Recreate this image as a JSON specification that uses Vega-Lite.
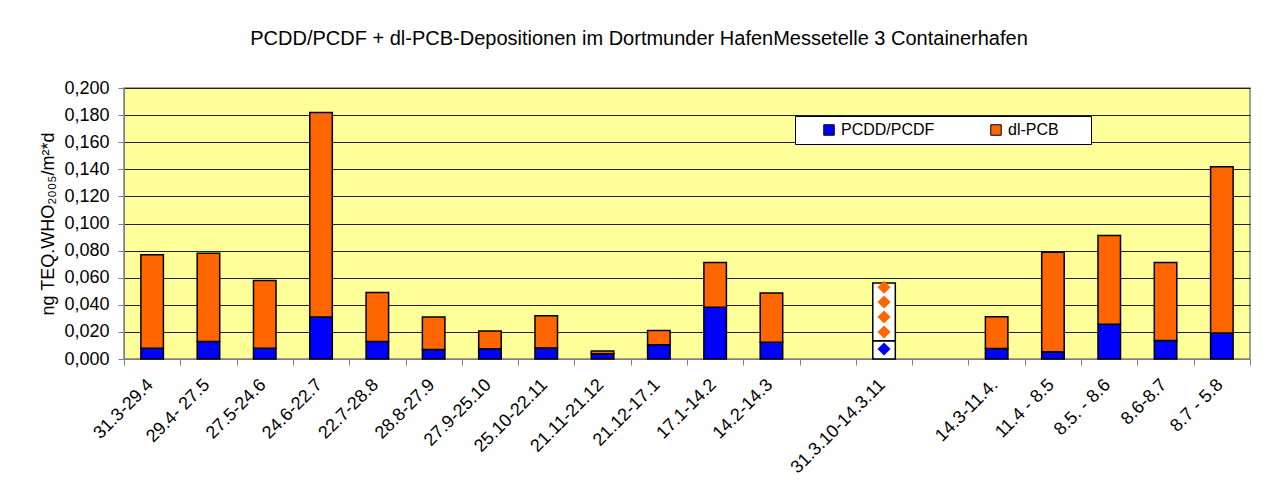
{
  "$schema": "https://vega.github.io/schema/vega-lite/v6.json",
  "width": 1126,
  "height": 271,
  "autosize": "none",
  "padding": {"left": 124, "top": 88, "right": 22, "bottom": 136},
  "background": "white",
  "config": {
    "font": "Liberation Sans",
    "view": {"fill": "#FFFF99", "stroke": "#808080", "strokeWidth": 1.5},
    "axisY": {
      "titleFontSize": 18,
      "titleFontWeight": "normal",
      "titleColor": "black",
      "titlePadding": 6,
      "tickCount": 10,
      "labelExpr": "replace(format(datum.value, '.3f'), '.', ',')",
      "labelFontSize": 18,
      "labelColor": "black",
      "labelPadding": 9,
      "labelOverlap": false,
      "tickSize": 6,
      "tickColor": "#808080",
      "domainColor": "#808080",
      "grid": true,
      "gridColor": "#222222",
      "gridWidth": 1
    }
  },
  "title": {
    "text": "PCDD/PCDF + dl-PCB-Depositionen im Dortmunder HafenMessetelle 3 Containerhafen",
    "fontSize": 20,
    "fontWeight": "normal",
    "color": "black",
    "anchor": "middle",
    "dx": -48,
    "offset": 30
  },
  "datasets": {
    "bars": [
      {"period": "31.3-29.4", "series": "PCDD/PCDF", "value": 0.008, "pattern": false},
      {"period": "31.3-29.4", "series": "dl-PCB", "value": 0.069, "pattern": false},
      {"period": "29.4- 27.5", "series": "PCDD/PCDF", "value": 0.013, "pattern": false},
      {"period": "29.4- 27.5", "series": "dl-PCB", "value": 0.065, "pattern": false},
      {"period": "27.5-24.6", "series": "PCDD/PCDF", "value": 0.008, "pattern": false},
      {"period": "27.5-24.6", "series": "dl-PCB", "value": 0.050, "pattern": false},
      {"period": "24.6-22.7", "series": "PCDD/PCDF", "value": 0.031, "pattern": false},
      {"period": "24.6-22.7", "series": "dl-PCB", "value": 0.151, "pattern": false},
      {"period": "22.7-28.8", "series": "PCDD/PCDF", "value": 0.013, "pattern": false},
      {"period": "22.7-28.8", "series": "dl-PCB", "value": 0.036, "pattern": false},
      {"period": "28.8-27.9", "series": "PCDD/PCDF", "value": 0.007, "pattern": false},
      {"period": "28.8-27.9", "series": "dl-PCB", "value": 0.024, "pattern": false},
      {"period": "27.9-25.10", "series": "PCDD/PCDF", "value": 0.0076, "pattern": false},
      {"period": "27.9-25.10", "series": "dl-PCB", "value": 0.0131, "pattern": false},
      {"period": "25.10-22.11", "series": "PCDD/PCDF", "value": 0.0081, "pattern": false},
      {"period": "25.10-22.11", "series": "dl-PCB", "value": 0.0239, "pattern": false},
      {"period": "21.11-21.12", "series": "PCDD/PCDF", "value": 0.0039, "pattern": false},
      {"period": "21.11-21.12", "series": "dl-PCB", "value": 0.002, "pattern": false},
      {"period": "21.12-17.1", "series": "PCDD/PCDF", "value": 0.0106, "pattern": false},
      {"period": "21.12-17.1", "series": "dl-PCB", "value": 0.0105, "pattern": false},
      {"period": "17.1-14.2", "series": "PCDD/PCDF", "value": 0.0381, "pattern": false},
      {"period": "17.1-14.2", "series": "dl-PCB", "value": 0.0332, "pattern": false},
      {"period": "14.2-14.3", "series": "PCDD/PCDF", "value": 0.0123, "pattern": false},
      {"period": "14.2-14.3", "series": "dl-PCB", "value": 0.0364, "pattern": false},
      {"period": "31.3.10-14.3.11", "series": "PCDD/PCDF", "value": 0.0135, "pattern": true},
      {"period": "31.3.10-14.3.11", "series": "dl-PCB", "value": 0.0425, "pattern": true},
      {"period": "14.3-11.4.", "series": "PCDD/PCDF", "value": 0.0078, "pattern": false},
      {"period": "14.3-11.4.", "series": "dl-PCB", "value": 0.0234, "pattern": false},
      {"period": "11.4 - 8.5", "series": "PCDD/PCDF", "value": 0.0054, "pattern": false},
      {"period": "11.4 - 8.5", "series": "dl-PCB", "value": 0.0733, "pattern": false},
      {"period": "8.5. - 8.6", "series": "PCDD/PCDF", "value": 0.0256, "pattern": false},
      {"period": "8.5. - 8.6", "series": "dl-PCB", "value": 0.0656, "pattern": false},
      {"period": "8.6-8.7", "series": "PCDD/PCDF", "value": 0.0137, "pattern": false},
      {"period": "8.6-8.7", "series": "dl-PCB", "value": 0.0576, "pattern": false},
      {"period": "8.7 - 5.8", "series": "PCDD/PCDF", "value": 0.0192, "pattern": false},
      {"period": "8.7 - 5.8", "series": "dl-PCB", "value": 0.1227, "pattern": false}
    ],
    "diamonds": [
      {"period": "31.3.10-14.3.11", "series": "PCDD/PCDF", "value": 0.0074},
      {"period": "31.3.10-14.3.11", "series": "dl-PCB", "value": 0.020},
      {"period": "31.3.10-14.3.11", "series": "dl-PCB", "value": 0.031},
      {"period": "31.3.10-14.3.11", "series": "dl-PCB", "value": 0.042},
      {"period": "31.3.10-14.3.11", "series": "dl-PCB", "value": 0.053}
    ]
  },
  "encoding": {
    "x": {
      "field": "period",
      "type": "nominal",
      "sort": ["31.3-29.4", "29.4- 27.5", "27.5-24.6", "24.6-22.7", "22.7-28.8", "28.8-27.9", "27.9-25.10", "25.10-22.11", "21.11-21.12", "21.12-17.1", "17.1-14.2", "14.2-14.3", " ", "31.3.10-14.3.11", "  ", "14.3-11.4.", "11.4 - 8.5", "8.5. - 8.6", "8.6-8.7", "8.7 - 5.8"],
      "scale": {
        "domain": ["31.3-29.4", "29.4- 27.5", "27.5-24.6", "24.6-22.7", "22.7-28.8", "28.8-27.9", "27.9-25.10", "25.10-22.11", "21.11-21.12", "21.12-17.1", "17.1-14.2", "14.2-14.3", " ", "31.3.10-14.3.11", "  ", "14.3-11.4.", "11.4 - 8.5", "8.5. - 8.6", "8.6-8.7", "8.7 - 5.8"],
        "paddingInner": 0,
        "paddingOuter": 0
      },
      "axis": {
        "title": null,
        "labelAngle": -45,
        "labelAlign": "right",
        "labelBaseline": "middle",
        "labelFontSize": 18,
        "labelColor": "black",
        "labelPadding": 17,
        "labelOffset": -2,
        "tickBand": "extent",
        "tickSize": 6,
        "tickColor": "#808080",
        "domainColor": "#808080",
        "labelOverlap": false,
        "labelBound": false
      }
    }
  },
  "layer": [
    {
      "data": {"name": "bars"},
      "transform": [{"filter": "!datum.pattern"}],
      "mark": {"type": "bar", "width": {"band": 0.4}, "stroke": "black", "strokeWidth": 1.5},
      "encoding": {
        "y": {
          "field": "value",
          "type": "quantitative",
          "stack": "zero",
          "scale": {"domain": [0, 0.2], "nice": false},
          "axis": {"title": "ng TEQ.WHO₂₀₀₅/m²*d"}
        },
        "color": {
          "field": "series",
          "type": "nominal",
          "scale": {"domain": ["PCDD/PCDF", "dl-PCB"], "range": ["#0000FF", "#FF6600"]},
          "legend": {
            "title": "\u00a0",
            "titleOrient": "right",
            "titlePadding": 26,
            "titleFontSize": 16,
            "orient": "none",
            "legendX": 671,
            "legendY": 28,
            "direction": "horizontal",
            "columns": 2,
            "fillColor": "white",
            "strokeColor": "black",
            "padding": 6,
            "symbolType": "square",
            "symbolSize": 110,
            "symbolStrokeColor": "black",
            "symbolStrokeWidth": 1,
            "symbolOffset": 20,
            "labelFontSize": 16,
            "labelColor": "black",
            "labelOffset": 4,
            "columnPadding": 33
          }
        },
        "order": {"field": "series", "sort": "ascending"}
      }
    },
    {
      "data": {"name": "bars"},
      "transform": [{"filter": "datum.pattern"}],
      "mark": {"type": "bar", "width": {"band": 0.4}, "fill": "white", "stroke": "black", "strokeWidth": 1.5},
      "encoding": {
        "y": {"field": "value", "type": "quantitative", "stack": "zero", "axis": {"title": "ng TEQ.WHO₂₀₀₅/m²*d"}},
        "detail": {"field": "series"},
        "order": {"field": "series", "sort": "ascending"}
      }
    },
    {
      "data": {"name": "diamonds"},
      "mark": {"type": "point", "shape": "diamond", "filled": true, "size": 170, "opacity": 1},
      "encoding": {
        "y": {"field": "value", "type": "quantitative", "axis": {"title": "ng TEQ.WHO₂₀₀₅/m²*d"}},
        "fill": {
          "field": "series",
          "type": "nominal",
          "scale": {"domain": ["PCDD/PCDF", "dl-PCB"], "range": ["#0000FF", "#FF6600"]},
          "legend": null
        }
      }
    }
  ]
}
